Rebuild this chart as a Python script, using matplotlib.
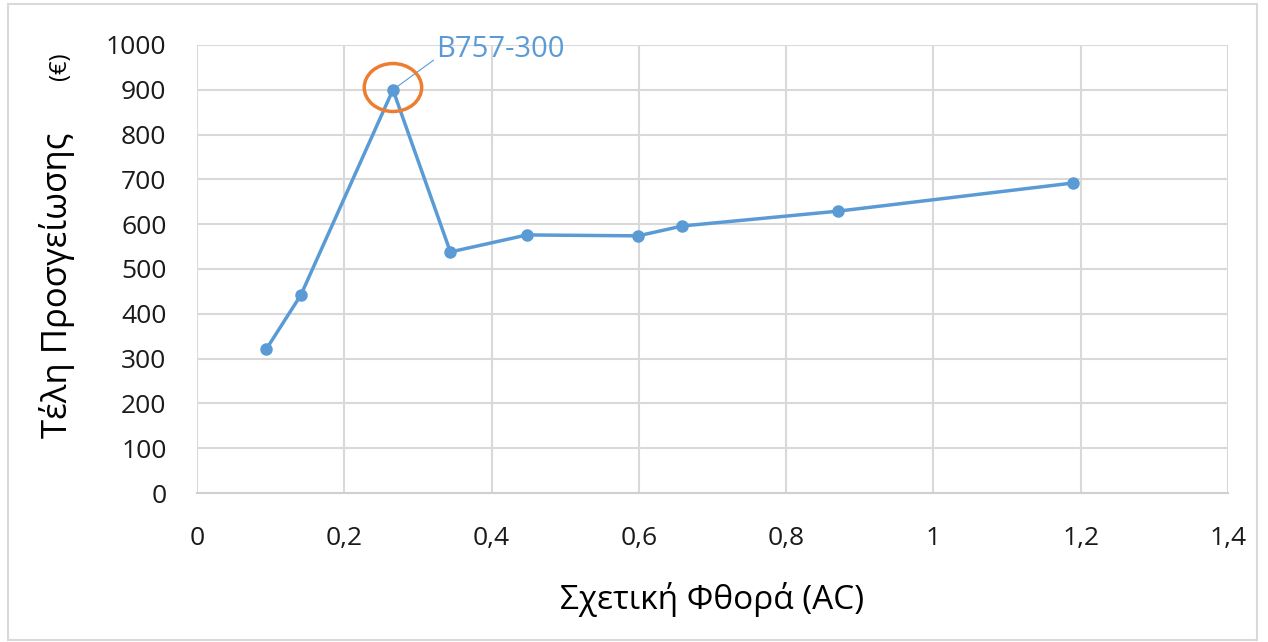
import matplotlib.pyplot as plt
from matplotlib.patches import Ellipse, Rectangle

# data
wear = [0.094, 0.141, 0.266, 0.344, 0.448, 0.599, 0.659, 0.870, 1.190]
fees = [321, 442, 900, 538, 576, 574, 596, 629, 692]
xticks = [0, 0.2, 0.4, 0.6, 0.8, 1.0, 1.2, 1.4]
xtick_labels = ['0', '0,2', '0,4', '0,6', '0,8', '1', '1,2', '1,4']
yticks = [0, 100, 200, 300, 400, 500, 600, 700, 800, 900, 1000]

plt.rcParams['font.family'] = ['Open Sans', 'DejaVu Sans']

fig = plt.figure(figsize=(12.68, 6.42), dpi=100)
ax = fig.add_axes([0.1554, 0.232, 0.8131, 0.698])

ax.plot(wear, fees, '-o', color='#5B9BD5', lw=2.5, ms=8)

ax.set_xlim(0, 1.4)
ax.set_ylim(0, 1000)
ax.set_xticks(xticks)
ax.set_xticklabels(xtick_labels)
ax.set_yticks(yticks)
ax.tick_params(length=0, labelsize=19, colors='#1A1A1A')
ax.tick_params(axis='x', pad=24)
ax.tick_params(axis='y', pad=22)
ax.grid(True, color='#D9D9D9', lw=1.5)
ax.set_axisbelow(True)
for s in ['top', 'right', 'left']:
    ax.spines[s].set_visible(False)
ax.spines['bottom'].set_color('#D0D0D0')
ax.spines['bottom'].set_linewidth(1.5)

# highlighted point
ax.add_patch(Ellipse((wear[2], fees[2] + 5), 0.078, 107, fill=False,
                     ec='#ED7D31', lw=2.5, zorder=4))
ax.annotate('B757-300', xy=(wear[2], fees[2]), xytext=(0.325, 990),
            color='#5B9BD5', fontsize=21, va='center',
            arrowprops=dict(arrowstyle='-', color='#5B9BD5', lw=0.8,
                            shrinkA=0, shrinkB=0, relpos=(0, 0.2)))

ax.set_xlabel('Σχετική Φθορά (AC)', fontsize=24, labelpad=22)
fig.text(0.045, 0.555, 'Τέλη Προσγείωσης', rotation=90, fontsize=25,
         ha='center', va='center')
fig.text(0.047, 0.897, '(€)', rotation=90, fontsize=17, ha='center', va='center')

fig.add_artist(Rectangle((0.006, 0.003), 0.985, 0.99, transform=fig.transFigure,
                         fill=False, ec='#D9D9D9', lw=1.5))

fig.savefig('out.png', dpi=100)
